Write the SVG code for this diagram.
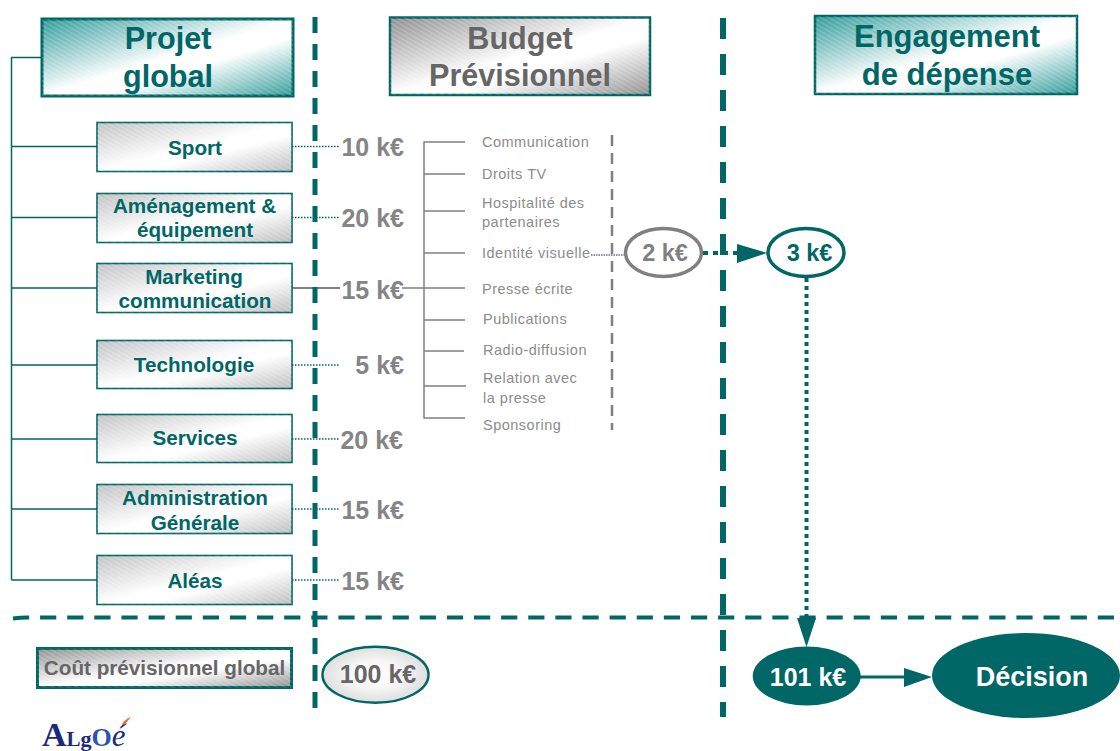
<svg xmlns="http://www.w3.org/2000/svg" width="1120" height="751" viewBox="0 0 1120 751">
<style>
text{font-family:"Liberation Sans",Arial,sans-serif;font-weight:700;text-anchor:middle}
.teal{fill:#006666}.gt{fill:#666666}.g{fill:#808080}
.h{font-size:30.6px}.n{font-size:20.7px}
.v{font-size:25px;fill:#858585;text-anchor:end}
.s{font-size:14.5px;font-weight:400;fill:#8c8c8c;text-anchor:start;letter-spacing:.5px}
.box{stroke:#006666;stroke-width:1.6}
.shadow{fill:#9fc4c4}
.hatch{fill:url(#hatch)}
.bus{fill:none;stroke:#006666;stroke-width:1.5}
.tree{fill:none;stroke:#808080;stroke-width:1.5}
.dot{fill:none;stroke:#006666;stroke-width:1.5;stroke-dasharray:1.5 1.5}
.vd1{stroke:#006666;stroke-width:5;stroke-dasharray:16 11;fill:none}
.vd2{stroke:#006666;stroke-width:6;stroke-dasharray:21 15;fill:none}
.hd{stroke:#006666;stroke-width:4;stroke-dasharray:16.2 10.92;fill:none}
</style>
<defs>
<linearGradient id="gGrey" x1="0" y1="0" x2="1" y2="1"><stop offset="0" stop-color="#c2c2c2"/><stop offset=".5" stop-color="#ffffff"/><stop offset=".62" stop-color="#ffffff"/><stop offset="1" stop-color="#bcbcbc"/></linearGradient>
<linearGradient id="gGreyD" x1="0" y1="0" x2="1" y2="1"><stop offset="0" stop-color="#8f8f8f"/><stop offset=".5" stop-color="#ffffff"/><stop offset=".62" stop-color="#ffffff"/><stop offset="1" stop-color="#8f8f8f"/></linearGradient>
<linearGradient id="gTeal" x1="0" y1="0" x2="1" y2="1"><stop offset="0" stop-color="#2f9a9a"/><stop offset=".5" stop-color="#ffffff"/><stop offset=".62" stop-color="#ffffff"/><stop offset="1" stop-color="#2f9a9a"/></linearGradient>
<radialGradient id="gOval"><stop offset="0" stop-color="#ffffff"/><stop offset=".5" stop-color="#f6f6f6"/><stop offset="1" stop-color="#dedede"/></radialGradient>
<pattern id="hatch" width="4" height="4" patternUnits="userSpaceOnUse" patternTransform="rotate(30)"><rect width="4" height="1.4" fill="#ffffff" fill-opacity=".2"/></pattern>
</defs>

<g id="connectors">
<path class="bus" d="M42 57.500H11.500V580M11.500 146.500H97M11.500 217.500H97M11.500 288H97M11.500 365H97M11.500 439H97M11.500 509H97M11.500 580H97"/>
<path class="dot" d="M292 146.500H340M292 217.500H340M292 365H340M292 439H340M292 509H340M292 580H340"/>
<path d="M292 288H340" fill="none" stroke="#808080" stroke-width="2"/>
<path class="tree" d="M465 142H424V418H465M424 174H465M424 211H465M424 253H465M402 288H465M424 320H465M424 351H464M424 386H466"/>
<path d="M612 135V430" fill="none" stroke="#808080" stroke-width="2.500" stroke-dasharray="11 7"/>
<path d="M591 255H627" fill="none" stroke="#1a1a6e" stroke-width="1.200" stroke-dasharray="1.500 1"/>
<path class="vd1" d="M315 17V708"/>
<path class="vd2" d="M723 18V717"/>
<path class="hd" d="M13 618.500Q20 617.500 28 617.500H1120"/>
<path d="M703 253H738" fill="none" stroke="#006666" stroke-width="4" stroke-dasharray="5 5"/>
<polygon points="737,244 767,253 737,263" fill="#006666"/>
<path d="M806.500 278V618" fill="none" stroke="#006666" stroke-width="4" stroke-dasharray="4 4"/>
<polygon points="797,618 816,618 806.500,647" fill="#006666"/>
<path d="M860 677H905" fill="none" stroke="#006666" stroke-width="3"/>
<polygon points="904,668 932,677 904,687" fill="#006666"/>
</g>

<g id="projet-global"><rect x="42" y="19" width="251" height="77" fill="url(#gTeal)" stroke="#006666" stroke-width="3"/><rect x="42" y="19" width="251" height="77" class="hatch"/><text class="h teal" x="168" y="49">Projet</text><text class="h teal" x="168" y="87">global</text></g>
<g id="budget-previsionnel"><rect x="390" y="17.500" width="260" height="77.500" fill="url(#gGreyD)" stroke="#006666" stroke-width="2.500"/><rect x="390" y="17.500" width="260" height="77.500" class="hatch"/><text class="h gt" x="520" y="49">Budget</text><text class="h gt" x="520" y="86">Prévisionnel</text></g>
<g id="engagement-depense"><rect x="815" y="16" width="262" height="78" fill="url(#gTeal)" stroke="#006666" stroke-width="2.500"/><rect x="815" y="16" width="262" height="78" class="hatch"/><text class="h teal" x="947" y="47" style="font-size:31px">Engagement</text><text class="h teal" x="947" y="85" style="font-size:31px">de dépense</text></g>

<g id="sport"><rect class="box" x="97" y="122.500" width="195" height="49" fill="url(#gGrey)"/><rect class="hatch" x="97" y="122.500" width="195" height="49"/><text class="n teal" x="195" y="155">Sport</text></g>
<g id="amenagement"><rect class="box" x="97" y="193.500" width="195" height="49" fill="url(#gGrey)"/><rect class="hatch" x="97" y="193.500" width="195" height="49"/><text class="n teal" x="194.500" y="213">Aménagement &amp;</text><text class="n teal" x="195" y="237">équipement</text></g>
<g id="marketing"><rect class="box" x="97" y="263.500" width="195" height="49" fill="url(#gGrey)"/><rect class="hatch" x="97" y="263.500" width="195" height="49"/><text class="n teal" x="194" y="284">Marketing</text><text class="n teal" x="195" y="308">communication</text></g>
<g id="technologie"><rect class="box" x="97" y="340.500" width="195" height="48" fill="url(#gGrey)"/><rect class="hatch" x="97" y="340.500" width="195" height="48"/><text class="n teal" x="194" y="372">Technologie</text></g>
<g id="services"><rect class="box" x="97" y="414.500" width="195" height="48" fill="url(#gGrey)"/><rect class="hatch" x="97" y="414.500" width="195" height="48"/><text class="n teal" x="195" y="445">Services</text></g>
<g id="administration"><rect class="box" x="97" y="484.500" width="195" height="49" fill="url(#gGrey)"/><rect class="hatch" x="97" y="484.500" width="195" height="49"/><text class="n teal" x="195" y="505">Administration</text><text class="n teal" x="195" y="530">Générale</text></g>
<g id="aleas"><rect class="box" x="97" y="555.500" width="195" height="49" fill="url(#gGrey)"/><rect class="hatch" x="97" y="555.500" width="195" height="49"/><text class="n teal" x="195" y="588">Aléas</text></g>

<g id="montants">
<text class="v" x="404" y="156">10 k€</text>
<text class="v" x="404" y="227">20 k€</text>
<text class="v" x="404" y="299">15 k€</text>
<text class="v" x="404" y="374">5 k€</text>
<text class="v" x="403" y="449">20 k€</text>
<text class="v" x="404" y="519">15 k€</text>
<text class="v" x="404" y="590">15 k€</text>
</g>

<g id="postes">
<text class="s" x="482" y="147">Communication</text>
<text class="s" x="482" y="179">Droits TV</text>
<text class="s" x="482" y="208">Hospitalité des</text>
<text class="s" x="482" y="227">partenaires</text>
<text class="s" x="482" y="258">Identité visuelle</text>
<text class="s" x="482" y="294">Presse écrite</text>
<text class="s" x="483" y="324">Publications</text>
<text class="s" x="483" y="355">Radio-diffusion</text>
<text class="s" x="483" y="383">Relation avec</text>
<text class="s" x="483" y="403">la presse</text>
<text class="s" x="483" y="430">Sponsoring</text>
</g>

<g id="oval-2k"><ellipse cx="663.500" cy="252.500" rx="38" ry="24" fill="#fff" stroke="#808080" stroke-width="3.500"/><text class="g" x="665" y="261" style="font-size:23.500px">2 k€</text></g>
<g id="oval-3k"><ellipse cx="806" cy="252.500" rx="38" ry="24" fill="#fff" stroke="#006666" stroke-width="3.500"/><text class="teal" x="809.500" y="261" style="font-size:23.500px">3 k€</text></g>

<g id="cout-global"><rect x="37.500" y="648.500" width="254" height="39" fill="url(#gGreyD)" stroke="#006666" stroke-width="3"/><rect x="37.500" y="648.500" width="254" height="39" class="hatch"/><text class="gt" x="164.500" y="675" style="font-size:20.700px">Coût prévisionnel global</text></g>
<g id="oval-100k"><ellipse cx="375.500" cy="674.700" rx="53" ry="28" fill="url(#gOval)" stroke="#006666" stroke-width="2.500"/><text class="gt" x="378" y="683" style="font-size:25px">100 k€</text></g>
<g id="oval-101k"><ellipse cx="806.700" cy="676" rx="54" ry="29.500" fill="#006666"/><text x="808" y="686" fill="#fff" style="font-size:25px">101 k€</text></g>
<g id="decision"><ellipse cx="1026" cy="675.500" rx="94" ry="42.500" fill="#006666"/><text x="1032" y="686" fill="#fff" style="font-size:27px">Décision</text></g>

<g id="logo">
<text x="42" y="746" fill="#1a2a7a" style="font-family:'Liberation Serif',serif;text-anchor:start;font-size:34px">A<tspan style="font-size:21px">L</tspan><tspan style="font-size:22px">g</tspan><tspan style="font-size:26px" fill="#2a56b0">O</tspan><tspan style="font-size:31px;font-style:italic;font-weight:400">é</tspan></text>
<path d="M122 724Q125 719 131 717Q128 721 124 725Z" fill="#f07020"/>
</g>
</svg>
